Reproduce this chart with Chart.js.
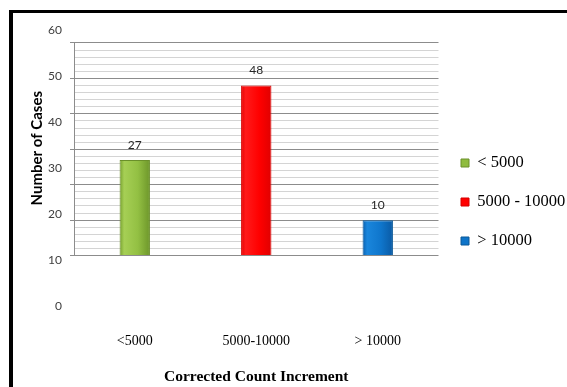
<!DOCTYPE html>
<html>
<head>
<meta charset="utf-8">
<script src="https://cdn.jsdelivr.net/npm/chart.js@4/dist/chart.umd.min.js"></script>
<style>
  html, body { margin: 0; padding: 0; background: #ffffff; }
  #wrap { position: relative; width: 567px; height: 387px; }
</style>
</head>
<body>
<div id="wrap"><canvas id="c" width="567" height="387"></canvas></div>
<script>
// ---- data ----
const categories = ['<5000', '5000-10000', '> 10000'];
const seriesNames = ['< 5000', '5000 - 10000', '> 10000'];
const caseCounts = [27, 48, 10];
const yTickValues = [0, 10, 20, 30, 40, 50, 60];

// ---- styles ----
const fillColors = ['#8fbc3f', '#ff0000', '#0e74c9'];
const edgeColors = ['#6a8f2a', '#d40000', '#0a5898'];
const shadeStops = [
  ['#76a02e', '#a6cf55', '#93c043', '#6d962a'],
  ['#e60000', '#ff1a1a', '#ff0000', '#e00000'],
  ['#0a5fae', '#1a86dc', '#0f76cc', '#0a5aa4']
];

const datasets = seriesNames.map((name, i) => ({
  label: name,
  data: categories.map((_, j) => (j === i ? caseCounts[i] : null)),
  backgroundColor: fillColors[i],
  borderColor: edgeColors[i],
  borderWidth: 1,
  yAxisID: 'y2',
  categoryPercentage: 0.25,
  barPercentage: 1.0,
  skipNull: true
}));

const framePlugin = {
  id: 'frame',
  beforeDraw(chart) {
    const c = chart.ctx;
    c.save();
    c.fillStyle = '#ffffff';
    c.fillRect(0, 0, chart.width, chart.height);
    c.fillStyle = '#000000';
    c.fillRect(9, 10, chart.width - 9, 3);
    c.fillRect(9, 10, 4, chart.height - 10);
    c.restore();
  }
};

// vertical value-axis line, spanning only the gridded range of the bar scale
const axisLine = {
  id: 'axisLine',
  beforeDatasetsDraw(chart) {
    const s = chart.scales.y2;
    const c = chart.ctx;
    const x = Math.round(chart.chartArea.left) + 0.5;
    c.save();
    c.strokeStyle = '#8c8c8c';
    c.lineWidth = 1;
    c.beginPath();
    c.moveTo(x, s.getPixelForValue(yTickValues[yTickValues.length - 1]));
    c.lineTo(x, s.getPixelForValue(yTickValues[0]));
    c.stroke();
    c.restore();
  }
};

// horizontal shading on each bar (bevel look)
const barShading = {
  id: 'barShading',
  beforeDatasetsDraw(chart) {
    const c = chart.ctx;
    chart.data.datasets.forEach((ds, i) => {
      const meta = chart.getDatasetMeta(i);
      meta.data.forEach((el, j) => {
        if (ds.data[j] === null || !el.options || !el.width) return;
        const g = c.createLinearGradient(el.x - el.width / 2, 0, el.x + el.width / 2, 0);
        const s = shadeStops[i];
        g.addColorStop(0, s[0]);
        g.addColorStop(0.15, s[1]);
        g.addColorStop(0.6, s[2]);
        g.addColorStop(1, s[3]);
        el.options.backgroundColor = g;
      });
    });
  }
};

const valueLabels = {
  id: 'valueLabels',
  afterDatasetsDraw(chart) {
    const c = chart.ctx;
    c.save();
    c.font = '12px Lato';
    c.fillStyle = '#262626';
    c.textAlign = 'center';
    c.textBaseline = 'middle';
    chart.data.datasets.forEach((ds, i) => {
      const meta = chart.getDatasetMeta(i);
      meta.data.forEach((el, j) => {
        const v = ds.data[j];
        if (v === null || v === undefined) return;
        c.fillText(String(v), el.x, el.y - 15);
      });
    });
    c.restore();
  }
};

function inRange(v) {
  return v >= yTickValues[0] - 0.001 && v <= yTickValues[yTickValues.length - 1] + 0.001 &&
         Math.abs(v - Math.round(v)) < 0.001;
}

new Chart(document.getElementById('c'), {
  type: 'bar',
  data: { labels: categories, datasets },
  plugins: [framePlugin, axisLine, barShading, valueLabels],
  options: {
    responsive: false,
    animation: false,
    layout: { padding: { top: 30, left: 20, right: 0, bottom: 2.5 } },
    plugins: {
      tooltip: { enabled: false },
      legend: {
        position: 'right',
        align: 'start',
        maxWidth: 128.5,
        title: { display: true, text: ' ', font: { size: 10, lineHeight: 1 }, padding: { top: 92.25, bottom: 0 } },
        labels: {
          boxWidth: 8,
          boxHeight: 8,
          padding: 22.5,
          color: '#000000',
          font: { family: '"Liberation Serif", "Times New Roman", serif', size: 16.5 }
        }
      }
    },
    scales: {
      x: {
        grid: { display: false, drawTicks: false },
        border: { display: false },
        ticks: {
          color: '#000000',
          padding: 28,
          font: { family: '"Liberation Serif", "Times New Roman", serif', size: 14, lineHeight: 1 }
        },
        title: {
          display: true,
          text: 'Corrected Count Increment',
          color: '#000000',
          font: { family: '"Liberation Serif", "Times New Roman", serif', size: 15.5, weight: 'bold', lineHeight: 1 },
          padding: { top: -7.5, bottom: 0 }
        }
      },
      y: {
        position: 'left',
        weight: 2,
        min: 0,
        max: 60,
        afterBuildTicks: (scale) => { scale.ticks = yTickValues.map(v => ({ value: v })); },
        grid: { display: false, drawTicks: false },
        border: { display: false },
        ticks: {
          color: '#404040',
          padding: 8,
          font: { family: 'Lato', size: 12 }
        },
        title: {
          display: true,
          text: '\u00A0\u00A0\u00A0\u00A0\u00A0\u00A0\u00A0\u00A0\u00A0\u00A0\u00A0Number of Cases',
          color: '#000000',
          font: { family: 'Lato', size: 15, weight: 'bold', lineHeight: 1 },
          padding: { top: 9.5, bottom: -4.4 }
        }
      },
      y2: {
        position: 'left',
        weight: 1,
        min: -14.37,
        max: 63.66,
        ticks: { display: false, stepSize: 2 },
        border: { display: false },
        grid: {
          drawTicks: true,
          tickLength: 4,
          lineWidth: 1,
          color: (ctx) => {
            const v = ctx.tick ? ctx.tick.value : NaN;
            if (!inRange(v)) return 'rgba(0,0,0,0)';
            return (Math.round(v) % 10 === 0) ? '#8c8c8c' : '#d4d4d4';
          },
          tickColor: (ctx) => {
            const v = ctx.tick ? ctx.tick.value : NaN;
            if (!inRange(v)) return 'rgba(0,0,0,0)';
            return (Math.round(v) % 10 === 0) ? '#8c8c8c' : 'rgba(0,0,0,0)';
          }
        }
      }
    }
  }
});
</script>
</body>
</html>
